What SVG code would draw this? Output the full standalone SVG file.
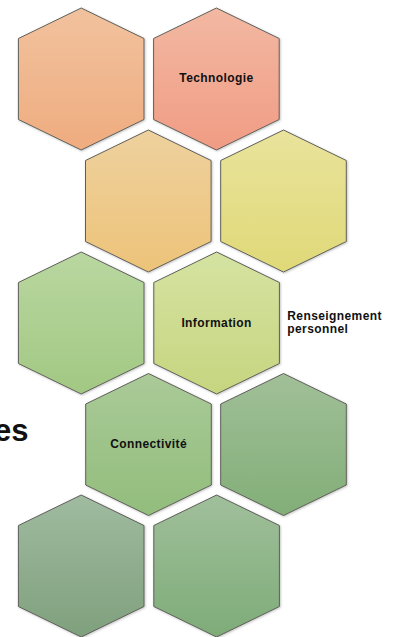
<svg xmlns="http://www.w3.org/2000/svg" xmlns:xlink="http://www.w3.org/1999/xlink" width="394" height="637" viewBox="0 0 394 637">
  <style>
    .hex { stroke: #5f5f5a; stroke-width: 1; }
    .lbl { font-family: "Liberation Sans", Arial, sans-serif; font-weight: bold; font-size: 12px; letter-spacing: 0.4px; fill: #111; }
    .mid { text-anchor: middle; }
    .big { font-family: "Liberation Sans", Arial, sans-serif; font-weight: bold; font-size: 31px; fill: #111; text-anchor: end; }
  </style>
  <defs>
    <!-- pointy-top hexagon, origin at the top vertex -->
    <path id="hexShape" d="M0,0 L62.8,30.5 L62.8,111.5 L0,142 L-62.8,111.5 L-62.8,30.5 Z"/>
    <filter id="soft" x="-10%" y="-10%" width="120%" height="120%">
      <feDropShadow dx="0.8" dy="0.8" stdDeviation="0.8" flood-color="#000" flood-opacity="0.25"/>
    </filter>
    <linearGradient id="g1" x1="0" y1="0" x2="0" y2="1"><stop offset="0" stop-color="#F1C29E"/><stop offset="1" stop-color="#EFAC7F"/></linearGradient>
    <linearGradient id="g2" x1="0" y1="0" x2="0" y2="1"><stop offset="0" stop-color="#F2B8A2"/><stop offset="1" stop-color="#F19C84"/></linearGradient>
    <linearGradient id="g3" x1="0" y1="0" x2="0" y2="1"><stop offset="0" stop-color="#EED19E"/><stop offset="1" stop-color="#EDC379"/></linearGradient>
    <linearGradient id="g4" x1="0" y1="0" x2="0" y2="1"><stop offset="0" stop-color="#E9E39C"/><stop offset="1" stop-color="#E0D978"/></linearGradient>
    <linearGradient id="g5" x1="0" y1="0" x2="0" y2="1"><stop offset="0" stop-color="#B9D7A0"/><stop offset="1" stop-color="#A2C883"/></linearGradient>
    <linearGradient id="g6" x1="0" y1="0" x2="0" y2="1"><stop offset="0" stop-color="#D5E3A2"/><stop offset="1" stop-color="#C6D57F"/></linearGradient>
    <linearGradient id="g7" x1="0" y1="0" x2="0" y2="1"><stop offset="0" stop-color="#AACA98"/><stop offset="1" stop-color="#92BD7C"/></linearGradient>
    <linearGradient id="g8" x1="0" y1="0" x2="0" y2="1"><stop offset="0" stop-color="#A1BF98"/><stop offset="1" stop-color="#82AE78"/></linearGradient>
    <linearGradient id="g9" x1="0" y1="0" x2="0" y2="1"><stop offset="0" stop-color="#A0BBA0"/><stop offset="1" stop-color="#7FA07D"/></linearGradient>
    <linearGradient id="g10" x1="0" y1="0" x2="0" y2="1"><stop offset="0" stop-color="#A0BF9B"/><stop offset="1" stop-color="#7EAC78"/></linearGradient>
  </defs>

  <rect width="394" height="637" fill="#ffffff"/>

  <!-- heading fragment at the left edge -->
  <text class="big" x="28.5" y="440.5">es</text>

  <g id="connectors"/>

  <g id="hex1"><use href="#hexShape" xlink:href="#hexShape" class="hex" fill="url(#g1)" filter="url(#soft)" transform="translate(81.2,8)"/></g>
  <g id="hex-technologie">
    <use href="#hexShape" xlink:href="#hexShape" class="hex" fill="url(#g2)" filter="url(#soft)" transform="translate(216.4,8)"/>
    <text class="lbl mid" x="216.4" y="82.3">Technologie</text>
  </g>
  <g id="hex3"><use href="#hexShape" xlink:href="#hexShape" class="hex" fill="url(#g3)" filter="url(#soft)" transform="translate(148.3,130)"/></g>
  <g id="hex4"><use href="#hexShape" xlink:href="#hexShape" class="hex" fill="url(#g4)" filter="url(#soft)" transform="translate(283.5,130)"/></g>
  <g id="hex5"><use href="#hexShape" xlink:href="#hexShape" class="hex" fill="url(#g5)" filter="url(#soft)" transform="translate(81.2,252)"/></g>
  <g id="hex-information">
    <use href="#hexShape" xlink:href="#hexShape" class="hex" fill="url(#g6)" filter="url(#soft)" transform="translate(216.6,252)"/>
    <text class="lbl mid" x="216.6" y="326.7">Information</text>
  </g>
  <g id="label-renseignement">
    <text class="lbl" x="287.3" y="320">Renseignement</text>
    <text class="lbl" x="287.3" y="332.8">personnel</text>
  </g>
  <g id="hex-connectivite">
    <use href="#hexShape" xlink:href="#hexShape" class="hex" fill="url(#g7)" filter="url(#soft)" transform="translate(148.5,373.5)"/>
    <text class="lbl mid" x="148.6" y="448.2">Connectivité</text>
  </g>
  <g id="hex8"><use href="#hexShape" xlink:href="#hexShape" class="hex" fill="url(#g8)" filter="url(#soft)" transform="translate(283.5,373.5)"/></g>
  <g id="hex9"><use href="#hexShape" xlink:href="#hexShape" class="hex" fill="url(#g9)" filter="url(#soft)" transform="translate(81.2,495)"/></g>
  <g id="hex10"><use href="#hexShape" xlink:href="#hexShape" class="hex" fill="url(#g10)" filter="url(#soft)" transform="translate(216.6,495)"/></g>
</svg>
